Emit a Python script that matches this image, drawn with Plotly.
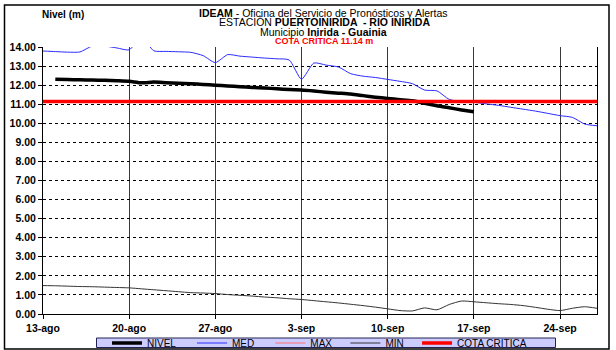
import plotly.graph_objects as go
import pandas as pd

# ---------------- data ----------------
start_date = "2010-08-13"
n_days = 46
dates = pd.date_range(start_date, periods=n_days, freq="D")

nivel = [None, 12.31, 12.29, 12.28, 12.27, 12.25, 12.23, 12.20, 12.12, 12.16,
         12.13, 12.10, 12.07, 12.04, 12.00, 11.96, 11.92, 11.88, 11.85, 11.81,
         11.77, 11.74, 11.69, 11.63, 11.58, 11.53, 11.45, 11.37, 11.30, 11.24,
         11.18, 11.05, 10.92, 10.81, 10.70, 10.60] + [None] * 10

med = [13.79, 13.76, 13.73, 13.74, 14.05, 14.05, 13.95, 13.85, 14.50, 13.80,
       13.77, 13.75, 13.72, 13.55, 13.18, 13.60, 13.52, 13.47, 13.42, 13.38,
       13.32, 12.31, 13.16, 13.05, 12.95, 12.60, 12.47, 12.40, 12.30, 12.20,
       12.08, 11.74, 11.70, 11.25, 11.14, 11.10, 11.02, 10.94, 10.84, 10.74,
       10.64, 10.52, 10.40, 10.31, 9.96, 9.87]

maxv = [None] * n_days  # off-scale (above 14 m), not visible

minv = [1.49, 1.48, 1.46, 1.44, 1.43, 1.41, 1.39, 1.37, 1.32, 1.27,
        1.22, 1.17, 1.12, 1.10, 1.07, 1.02, 0.98, 0.94, 0.89, 0.85,
        0.80, 0.76, 0.70, 0.64, 0.58, 0.51, 0.44, 0.36, 0.27, 0.18,
        0.16, 0.32, 0.22, 0.50, 0.68, 0.64, 0.59, 0.54, 0.50, 0.44,
        0.35, 0.25, 0.18, 0.30, 0.38, 0.30]

cota_critica = 11.14
cota = [cota_critica] * n_days

series_names = ["NIVEL", "MED", "MAX", "MIN", "COTA CRITICA"]

tick_dates = ["2010-08-13", "2010-08-20", "2010-08-27", "2010-09-03",
              "2010-09-10", "2010-09-17", "2010-09-24"]
tick_labels = ["13-ago", "20-ago", "27-ago", "3-sep", "10-sep", "17-sep", "24-sep"]
y_ticks = list(range(0, 15))
y_labels = [f"{v:.2f}" for v in y_ticks]

# ---------------- layout helpers ----------------
W, H = 616, 350
ML, MR, MT, MB = 43, 19, 47, 36
PW, PH = W - ML - MR, H - MT - MB


def px(x):
    return (x - ML) / PW


def py(y):
    return (H - MB - y) / PH


NB = "\u00a0"
pad = [4, 4, 3, 3, 0]  # trailing spacing for legend entries
legend_names = [n + NB * p for n, p in zip(series_names, pad)]

FONT = "Liberation Sans, Arial, sans-serif"

fig = go.Figure()
fig.add_trace(go.Scatter(x=dates, y=nivel, name=legend_names[0], mode="lines",
                         line=dict(color="black", width=3.5, shape="spline", smoothing=0.6)))
fig.add_trace(go.Scatter(x=dates, y=med, name=legend_names[1], mode="lines",
                         line=dict(color="#2b2bff", width=1, shape="spline", smoothing=0.6)))
fig.add_trace(go.Scatter(x=dates, y=maxv, name=legend_names[2], mode="lines",
                         line=dict(color="#ff6f6f", width=1)))
fig.add_trace(go.Scatter(x=dates, y=minv, name=legend_names[3], mode="lines",
                         line=dict(color="#333333", width=1, shape="spline", smoothing=0.6)))
fig.add_trace(go.Scatter(x=dates, y=cota, name=legend_names[4], mode="lines",
                         line=dict(color="#ff0000", width=3.5)))

fig.update_layout(
    width=W, height=H,
    margin=dict(l=ML, r=MR, t=MT, b=MB, pad=0, autoexpand=False),
    paper_bgcolor="white", plot_bgcolor="white",
    font=dict(family=FONT, color="black", size=10),
    showlegend=True,
    legend=dict(orientation="h", x=px(107), xanchor="left", y=py(343), yanchor="middle",
                bgcolor="rgba(0,0,0,0)", borderwidth=0,
                font=dict(family=FONT, size=10, color="black"),
                itemwidth=30, tracegroupgap=0, itemclick=False),
    xaxis=dict(type="date", range=["2010-08-13", "2010-09-27"],
               tickvals=tick_dates, ticktext=tick_labels,
               tickfont=dict(family=FONT, size=10.5, color="black", weight="bold"),
               showgrid=True, gridcolor="#3a3a3a", gridwidth=1,
               showline=True, linecolor="black", linewidth=1, mirror=False,
               ticks="outside", ticklen=4, tickcolor="black", zeroline=False),
    yaxis=dict(range=[0, 14], tickvals=y_ticks, ticktext=y_labels,
               tickfont=dict(family=FONT, size=10.5, color="black", weight="bold"),
               showgrid=True, gridcolor="black", gridwidth=1, griddash="dot",
               showline=True, linecolor="black", linewidth=1, mirror=True,
               ticks="outside", ticklen=4, tickcolor="black", zeroline=False),
)

shapes = [
    # outer chart border
    dict(type="rect", xref="paper", yref="paper",
         x0=px(4.5), x1=px(609), y0=py(349), y1=py(5),
         line=dict(color="black", width=1.5), fillcolor="rgba(0,0,0,0)", layer="below"),
    # legend box
    dict(type="rect", xref="paper", yref="paper",
         x0=px(96.5), x1=px(555.5), y0=py(347.5), y1=py(338),
         line=dict(color="#222255", width=1), fillcolor="#ccccff", layer="below"),
]
fig.update_layout(shapes=shapes)

ann = [
    dict(text="<b>Nivel (m)</b>", x=px(40), y=py(15), xanchor="left", yanchor="middle",
         font=dict(size=10)),
    dict(text="<b>IDEAM</b> - Oficina del Servicio de Pronósticos y Alertas",
         x=px(323), y=py(12.7), xanchor="center", yanchor="middle", font=dict(size=10.5)),
    dict(text="ESTACIÓN <b>PUERTOINIRIDA  - RIO INIRIDA</b>",
         x=px(324), y=py(21.5), xanchor="center", yanchor="middle", font=dict(size=10.5)),
    dict(text="Municipio <b>Inirida - Guainia</b>",
         x=px(323.5), y=py(31.7), xanchor="center", yanchor="middle", font=dict(size=10.5)),
    dict(text="<b>COTA CRÍTICA 11.14 m</b>",
         x=px(323.5), y=py(40.7), xanchor="center", yanchor="middle",
         font=dict(size=9, color="#ff0000")),
]
for a in ann:
    a.update(xref="paper", yref="paper", showarrow=False)
fig.update_layout(annotations=ann)

fig.write_html("out.html", config={"displayModeBar": False},
               post_script="document.body.style.margin='0';document.body.style.overflow='hidden';")
